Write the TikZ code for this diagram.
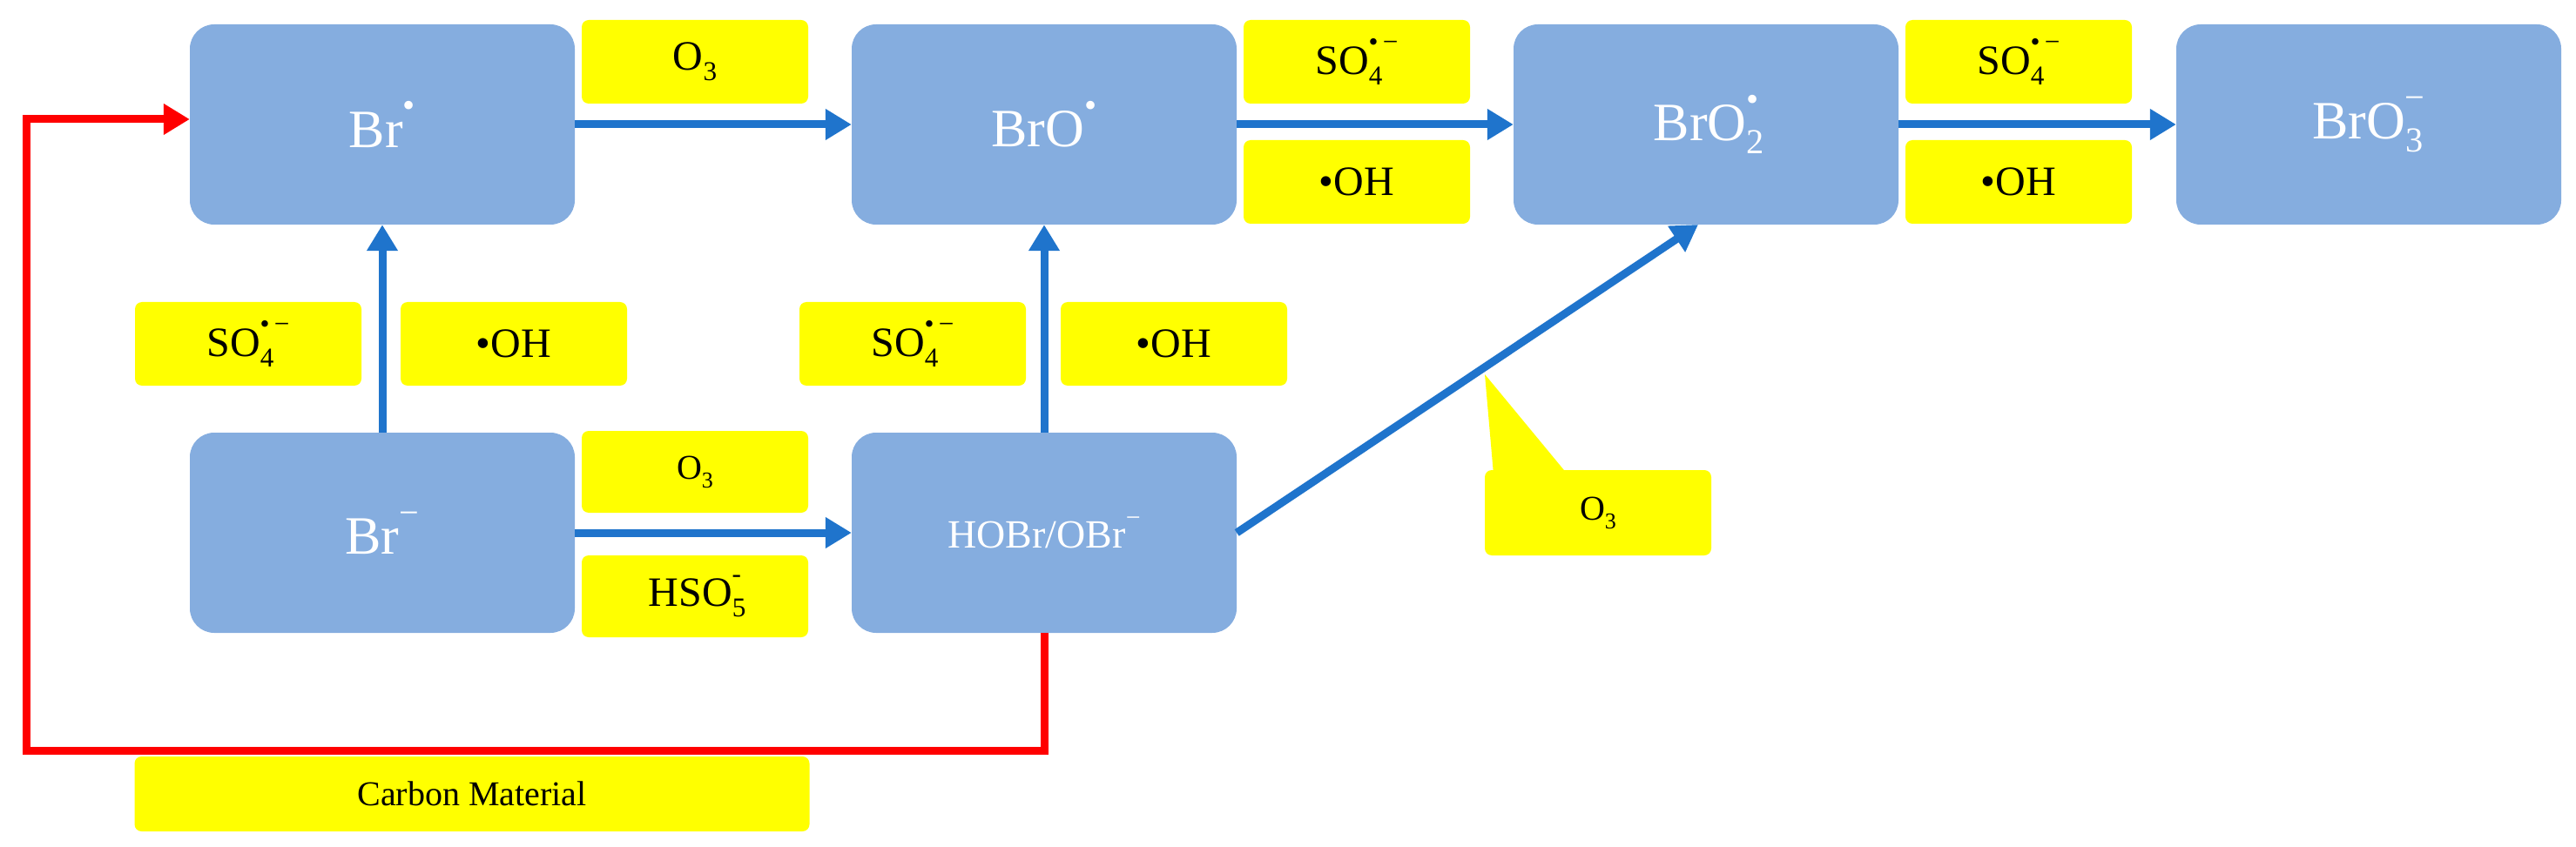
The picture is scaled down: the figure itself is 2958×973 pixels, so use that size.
\documentclass[tikz,border=0pt]{standalone}
\usepackage{fontspec}
\setmainfont{Liberation Serif}
\usetikzlibrary{arrows.meta}
\definecolor{bbox}{HTML}{85ADDF}
\definecolor{barrow}{HTML}{1F74CC}
\definecolor{ylab}{HTML}{FFFF00}
\newcommand{\lsub}[1]{\raisebox{-0.25em}{\scalebox{0.65}{#1}}}
\newcommand{\lsup}[1]{\raisebox{0.55em}{\scalebox{0.65}{#1}}}
\newcommand{\lsubsup}[2]{\raisebox{-0.25em}{\scalebox{0.65}{#1}}\hspace{-0.33em}\raisebox{0.55em}{\scalebox{0.65}{#2}}}
\begin{document}
\begin{tikzpicture}[x=1pt,y=-1pt,
 bx/.style={fill=bbox,rounded corners=28pt,minimum width=442pt,minimum height=230pt,text=white,font=\fontsize{62}{70}\selectfont,inner sep=0},
 lb/.style={fill=ylab,rounded corners=8pt,minimum width=260pt,minimum height=96pt,font=\fontsize{48}{56}\selectfont,inner sep=0},
 ba/.style={draw=barrow,line width=9pt,-{Triangle[length=30pt,width=34pt]}},
 ra/.style={draw=red,line width=9pt,-{Triangle[length=30pt,width=34pt]}}]
\useasboundingbox (0,0) rectangle (2958,973);
\node[bx] (br) at (439,143) {Br\lsup{•}};
\node[bx] (bro) at (1199,143) {BrO\lsup{•}};
\node[bx] (bro2) at (1959,143) {BrO\lsubsup{2}{•}};
\node[bx] (bro3) at (2720,143) {BrO\lsubsup{3}{\textminus}};
\node[bx] (brm) at (439,612) {Br\lsup{\textminus}};
\node[bx,font=\fontsize{46}{54}\selectfont] (hobr) at (1199,612) {HOBr/OBr\lsup{\textminus}};
\node[lb] (l1) at (798,71) {O\lsub{3}};
\node[lb] (l2) at (1558,71) {SO\lsubsup{4}{•\,\textminus}};
\node[lb] (l3) at (1558,209) {•OH};
\node[lb] (l4) at (2318,71) {SO\lsubsup{4}{•\,\textminus}};
\node[lb] (l5) at (2318,209) {•OH};
\node[lb] (l6) at (285,395) {SO\lsubsup{4}{•\,\textminus}};
\node[lb] (l7) at (590,395) {•OH};
\node[lb] (l8) at (1048,395) {SO\lsubsup{4}{•\,\textminus}};
\node[lb] (l9) at (1348,395) {•OH};
\node[lb,minimum height=94pt,font=\fontsize{40}{48}\selectfont] (l10) at (798,542) {O\lsub{3}};
\node[lb,minimum height=94pt] (l11) at (798,685) {HSO\lsubsup{5}{-}};
\node[lb,minimum width=775pt,minimum height=86pt,font=\fontsize{40}{48}\selectfont] (l12) at (542,912) {Carbon Material};
\fill[ylab] (1715,545) -- (1705,430) -- (1800,545) -- cycle;
\node[lb,minimum height=98pt,font=\fontsize{40}{48}\selectfont] (l13) at (1835,589) {O\lsub{3}};
\draw[ba] (br.east) -- (bro.west);
\draw[ba] (bro.east) -- (bro2.west);
\draw[ba] (bro2.east) -- (bro3.west);
\draw[ba] (brm.north) -- (br.south);
\draw[ba] (hobr.north) -- (bro.south);
\draw[ba] (brm.east) -- (hobr.west);
\draw[ba] (hobr.east) -- (1950,258);
\coordinate (c2) at (30,862);
\coordinate (c3) at (30,137);
\draw[ra] (hobr.south) -- (hobr.south|-c2) -- (c2) -- (c3) -- (br.west|-c3);
\end{tikzpicture}
\end{document}
